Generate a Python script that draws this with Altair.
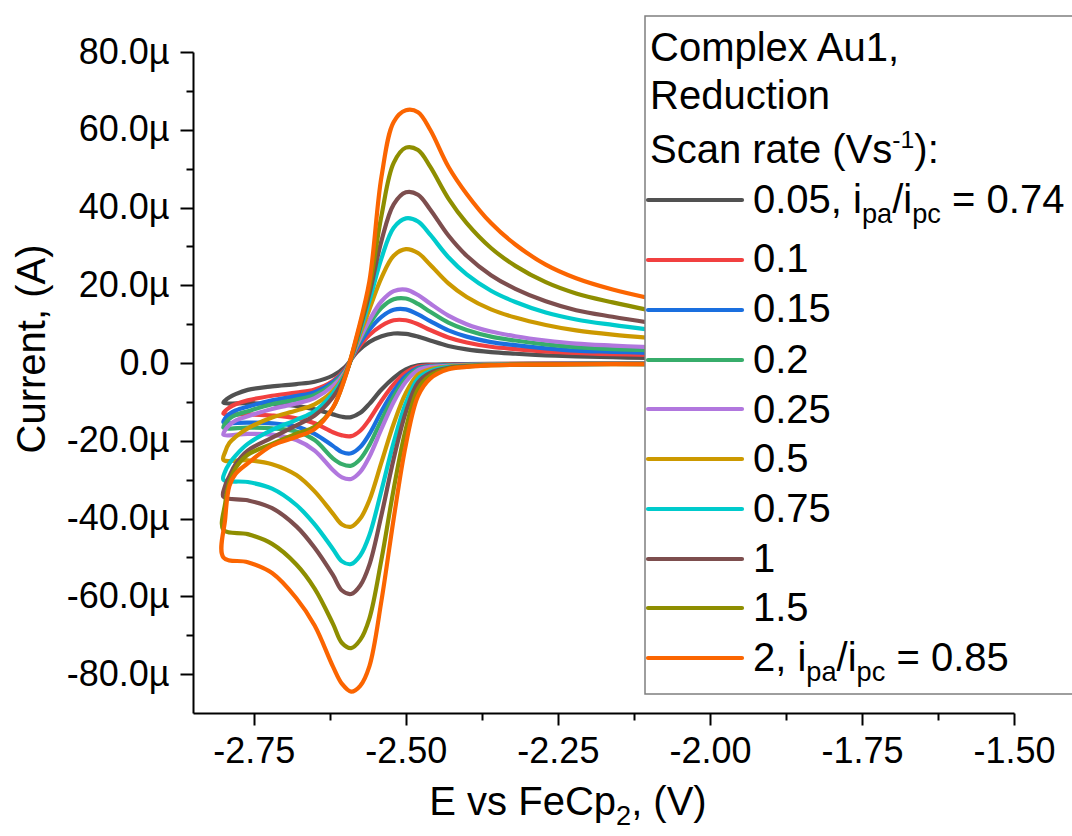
import altair as alt
import pandas as pd

# ---------------- data ----------------
rates = ["0.05", "0.1", "0.15", "0.2", "0.25", "0.5", "0.75", "1", "1.5", "2"]
colors = ["#515151", "#F14040", "#1A6FDF", "#37AD6B", "#B177DE",
          "#CC9900", "#00CBCC", "#7D4E4E", "#8E8E00", "#FB6501"]

# forward (cathodic) sweep, right -> left, potential in V
V_cath = [-2.10, -2.20, -2.30, -2.36, -2.40, -2.43, -2.46, -2.48, -2.50, -2.52, -2.54,
          -2.56, -2.575, -2.59, -2.605, -2.62, -2.65, -2.68, -2.72, -2.76, -2.80]
# reverse (anodic) sweep, left -> right
V_anod = [-2.797, -2.79, -2.78, -2.76, -2.72, -2.68, -2.65, -2.62, -2.60, -2.58, -2.56,
          -2.54, -2.52, -2.50, -2.48, -2.46, -2.43, -2.40, -2.36, -2.32, -2.27, -2.22,
          -2.16, -2.10]

# currents in microampere
cath_005 = [-0.1, -0.1, -0.15, -0.2, -0.25, -0.3, -0.4, -0.6, -1.6, -3.8, -6.8, -10.5, -12.8, -13.9, -13.8, -13.2, -11.9, -11.0, -10.5, -10.3, -10.2]
cath_01 = [-0.13, -0.13, -0.19, -0.24, -0.32, -0.41, -0.58, -0.92, -2.44, -5.5, -9.7, -14.5, -17.4, -18.8, -18.6, -17.8, -15.5, -14.2, -13.5, -13.2, -13.0]
cath_015 = [-0.15, -0.15, -0.25, -0.3, -0.4, -0.5, -0.76, -1.26, -3.3, -7.2, -12.4, -18.3, -21.6, -23.2, -22.9, -21.3, -18.2, -16.3, -15.5, -15.3, -15.2]
cath_02 = [-0.2, -0.2, -0.3, -0.35, -0.45, -0.6, -0.9, -1.5, -4.0, -8.6, -14.6, -21.1, -24.7, -26.4, -26.0, -24.5, -19.8, -17.6, -16.8, -16.6, -16.6]
cath_025 = [-0.2, -0.2, -0.3, -0.4, -0.5, -0.7, -1.0, -1.8, -4.8, -10.0, -16.9, -24.1, -28.0, -29.8, -29.4, -27.5, -22.5, -19.8, -18.4, -18.2, -18.4]
cath_05 = [-0.2, -0.2, -0.35, -0.45, -0.6, -0.9, -1.6, -3.0, -7.7, -15.6, -25.5, -35.3, -40.0, -42.1, -41.5, -38.7, -33.0, -28.8, -26.0, -25.0, -24.9]
cath_075 = [-0.25, -0.25, -0.35, -0.5, -0.7, -1.0, -2.1, -4.0, -10.3, -20.4, -32.7, -44.3, -49.5, -51.7, -51.0, -47.8, -41.5, -36.5, -32.3, -30.6, -30.0]
cath_1 = [-0.25, -0.25, -0.4, -0.5, -0.8, -1.2, -2.5, -5.0, -12.6, -24.6, -39.0, -51.9, -57.2, -59.4, -58.5, -54.5, -47.5, -42.0, -37.3, -35.3, -34.4]
cath_15 = [-0.3, -0.3, -0.4, -0.55, -0.9, -1.4, -3.2, -6.7, -16.9, -32.4, -50.4, -65.7, -71.2, -73.3, -72.0, -67.0, -58.0, -51.8, -46.5, -44.0, -42.9]
cath_2 = [-0.3, -0.3, -0.4, -0.6, -1.0, -1.6, -4.0, -8.5, -21.0, -40.0, -61.0, -78.0, -83.0, -84.5, -82.5, -78.0, -67.5, -60.5, -54.0, -51.2, -50.0]

anod_005 = [-9.6, -8.8, -8.0, -6.9, -6.0, -5.4, -4.8, -3.2, -1.0, 2.9, 5.4, 6.9, 7.6, 7.5, 6.8, 5.8, 4.4, 3.5, 2.8, 2.4, 2.0, 1.7, 1.5, 1.3]
anod_01 = [-12.3, -11.4, -10.6, -9.6, -8.4, -7.6, -6.8, -4.6, -1.6, 3.5, 7.2, 9.6, 11.0, 11.0, 10.0, 8.5, 6.6, 5.3, 4.2, 3.6, 3.0, 2.6, 2.3, 2.1]
anod_015 = [-14.2, -13.1, -12.2, -11.2, -9.6, -8.5, -7.5, -4.9, -1.9, 4.0, 8.6, 11.9, 13.7, 13.8, 12.5, 10.8, 8.4, 6.8, 5.4, 4.6, 3.8, 3.2, 2.9, 2.6]
anod_02 = [-15.5, -14.3, -13.4, -12.4, -10.6, -9.4, -8.2, -5.4, -2.1, 4.5, 10.0, 14.2, 16.4, 16.6, 15.2, 13.2, 10.4, 8.5, 6.8, 5.8, 4.8, 4.1, 3.6, 3.3]
anod_025 = [-17.2, -15.9, -14.8, -13.7, -11.8, -10.4, -9.0, -5.9, -2.3, 4.8, 11.0, 15.9, 18.5, 18.9, 17.5, 15.3, 12.2, 10.0, 8.1, 6.9, 5.8, 5.0, 4.5, 4.1]
anod_05 = [-22.8, -20.5, -19.0, -16.8, -14.0, -12.2, -10.6, -7.2, -2.7, 5.5, 13.8, 22.0, 27.6, 29.3, 28.3, 25.3, 20.5, 17.0, 13.8, 11.7, 9.8, 8.4, 7.3, 6.5]
anod_075 = [-27.8, -25.8, -23.8, -20.8, -17.2, -14.6, -12.4, -7.8, -3.0, 6.0, 16.0, 27.0, 34.8, 37.2, 36.4, 33.0, 27.2, 22.8, 18.6, 15.7, 13.0, 11.2, 9.8, 8.6]
anod_1 = [-31.5, -29.0, -26.0, -22.5, -19.2, -16.0, -13.5, -8.8, -3.3, 6.5, 17.8, 31.5, 40.8, 43.9, 43.3, 39.5, 32.8, 27.6, 22.6, 19.1, 15.9, 13.6, 11.9, 10.4]
anod_15 = [-36.0, -30.5, -27.0, -23.6, -20.8, -18.2, -16.4, -11.5, -3.6, 7.0, 19.5, 38.0, 51.5, 55.4, 54.8, 50.5, 42.3, 36.0, 29.6, 25.0, 20.8, 17.9, 15.6, 13.6]
anod_2 = [-40.0, -31.5, -28.5, -25.8, -21.2, -19.0, -17.0, -11.5, -3.8, 7.5, 21.0, 48.0, 62.0, 65.0, 64.5, 60.0, 50.5, 43.5, 36.0, 30.5, 25.3, 21.8, 18.9, 16.7]

cath_all = [cath_005, cath_01, cath_015, cath_02, cath_025, cath_05, cath_075, cath_1, cath_15, cath_2]
anod_all = [anod_005, anod_01, anod_015, anod_02, anod_025, anod_05, anod_075, anod_1, anod_15, anod_2]

legend_labels = ["0.05", "0.1", "0.15", "0.2", "0.25", "0.5", "0.75", "1", "1.5", "2"]
ratio_first = "0.74"
ratio_last = "0.85"

# ---------------- geometry ----------------
OX, OY = 193, 52          # plot origin on the canvas
PW, PH = 821, 661         # plot size
FONT = "Liberation Sans"

rows = []
for k, r in enumerate(rates):
    Vs = V_cath + V_anod
    Is = cath_all[k] + anod_all[k]
    for i, (v, c) in enumerate(zip(Vs, Is)):
        rows.append({"rate": r, "k": k, "i": i, "E": v, "I": c})
df = pd.DataFrame(rows)

color_scale = alt.Scale(domain=rates, range=colors)

minor_x = "abs(datum.value*4 - round(datum.value*4)) > 0.01"
minor_y = "abs(datum.value) % 20 != 0"

x_axis = alt.Axis(
    values=[-2.75, -2.625, -2.5, -2.375, -2.25, -2.125, -2.0, -1.875, -1.75, -1.625, -1.5],
    labelExpr=f"{minor_x} ? '' : (datum.value < 0 ? '-' : '') + format(abs(datum.value), '.2f')",
    tickSize={"condition": {"test": minor_x, "value": 7}, "value": 12},
    title=None, grid=False, labelFontSize=36, labelFont=FONT, labelColor="black",
    labelPadding=9, domainColor="black", domainWidth=2, tickColor="black", tickWidth=2,
    labelFlush=False, labelOverlap=False,
)
y_axis = alt.Axis(
    values=list(range(-80, 81, 10)),
    labelExpr=f"{minor_y} ? '' : datum.value == 0 ? '0.0' : (datum.value < 0 ? '-' : '') + format(abs(datum.value), '.1f') + 'µ'",
    tickSize={"condition": {"test": minor_y, "value": 7}, "value": 13},
    title=None, grid=False, labelFontSize=36, labelFont=FONT, labelColor="black",
    labelPadding=11, domainColor="black", domainWidth=2, tickColor="black", tickWidth=2,
    labelFlush=False, labelOverlap=False,
)

lines = alt.Chart(df).mark_line(
    strokeWidth=4.2, interpolate="catmull-rom", strokeCap="round", strokeJoin="round"
).encode(
    x=alt.X("E:Q", scale=alt.Scale(domain=[-2.85, -1.5], nice=False, zero=False), axis=x_axis),
    y=alt.Y("I:Q", scale=alt.Scale(domain=[-90, 80], nice=False, zero=False), axis=y_axis),
    color=alt.Color("rate:N", scale=color_scale, legend=None),
    detail="k:N",
    order="i:Q",
)

# ---------------- legend box ----------------
box = alt.Chart(pd.DataFrame({"a": [0]})).mark_rect(
    fill="white", stroke="#7f7f7f", strokeWidth=1.5
).encode(
    x=alt.value(645 - OX), x2=alt.value(1076 - OX),
    y=alt.value(16 - OY), y2=alt.value(694 - OY),
)

line_y = [200, 260, 310, 360, 409, 459, 509, 559, 608, 658]
text_base = [213, 272, 322, 373, 423, 472, 522, 572, 621, 671]
leg_df = pd.DataFrame({
    "rate": rates,
    "x1": [648 - OX] * len(rates),
    "x2": [742 - OX] * len(rates),
    "y": [v - OY for v in line_y],
})
leg_lines = alt.Chart(leg_df).mark_rule(strokeWidth=4.2, strokeCap="round").encode(
    x=alt.X("x1:Q", scale=None, axis=None),
    x2="x2:Q",
    y=alt.Y("y:Q", scale=None, axis=None),
    color=alt.Color("rate:N", scale=color_scale, legend=None),
)

# Arial / Liberation Sans advance widths (per 1000 em)
W = {" ": 278, "(": 333, ")": 333, ",": 278, "-": 333, ".": 278, "/": 278, ":": 278,
     "=": 584, "A": 667, "C": 722, "E": 667, "F": 611, "R": 722, "S": 667, "V": 667,
     "a": 556, "c": 500, "d": 556, "e": 556, "i": 222, "l": 222, "m": 833, "n": 556,
     "o": 556, "p": 556, "r": 333, "s": 500, "t": 278, "u": 556, "v": 500, "x": 500}


def tw(s, fs):
    return sum(W.get(ch, 556) for ch in s) * fs / 1000.0


def seg_rows(segments, x0, base, fs):
    out = []
    x = x0
    for txt, kind in segments:
        if kind == "sub":
            s, dy = fs * 0.68, fs * 0.26
        elif kind == "sup":
            s, dy = fs * 0.62, -fs * 0.38
        else:
            s, dy = fs, 0.0
        lead = len(txt) - len(txt.lstrip(" "))
        x += tw(" " * lead, s)
        body = txt.lstrip(" ")
        out.append({"text": body, "x": x - OX, "y": base + dy - OY, "size": s})
        x += tw(body, s)
    return out


LF = 40
trows = []
trows += seg_rows([("Complex Au1,", "n")], 650, 61, LF)
trows += seg_rows([("Reduction", "n")], 650, 109, LF)
trows += seg_rows([("Scan rate (Vs", "n"), ("-1", "sup"), ("):", "n")], 650, 163, LF)
for j, lab in enumerate(legend_labels):
    if j == 0:
        segs = [(lab + ", i", "n"), ("pa", "sub"), ("/i", "n"), ("pc", "sub"), (" = " + ratio_first, "n")]
    elif j == len(legend_labels) - 1:
        segs = [(lab + ", i", "n"), ("pa", "sub"), ("/i", "n"), ("pc", "sub"), (" = " + ratio_last, "n")]
    else:
        segs = [(lab, "n")]
    trows += seg_rows(segs, 753, text_base[j], LF)

# x-axis title with subscript
TF = 40
xt = [("E vs FeCp", "n"), ("2", "sub"), (", (V)", "n")]
xt_w = tw("E vs FeCp", TF) + tw("2", TF * 0.68) + tw(", (V)", TF)
trows += seg_rows(xt, 568 - xt_w / 2, 815, TF)

tdf = pd.DataFrame(trows)
texts = alt.Chart(tdf).mark_text(
    align="left", baseline="alphabetic", font=FONT, color="black"
).encode(
    x=alt.X("x:Q", scale=None, axis=None),
    y=alt.Y("y:Q", scale=None, axis=None),
    size=alt.Size("size:Q", scale=None, legend=None),
    text="text:N",
)

ytitle = alt.Chart(pd.DataFrame({"t": ["Current, (A)"]})).mark_text(
    angle=270, align="center", baseline="alphabetic", font=FONT, fontSize=TF, color="black"
).encode(
    x=alt.value(45 - OX), y=alt.value(349 - OY), text="t:N"
)

chart = alt.layer(lines, box, leg_lines, texts, ytitle).properties(
    width=PW, height=PH,
    autosize=alt.AutoSizeParams(type="none"),
    padding={"left": OX, "top": OY, "right": 1072 - OX - PW, "bottom": 836 - OY - PH},
    background="white",
).configure_view(stroke=None)

chart.save("out.html", embed_options={"renderer": "svg", "actions": False})
